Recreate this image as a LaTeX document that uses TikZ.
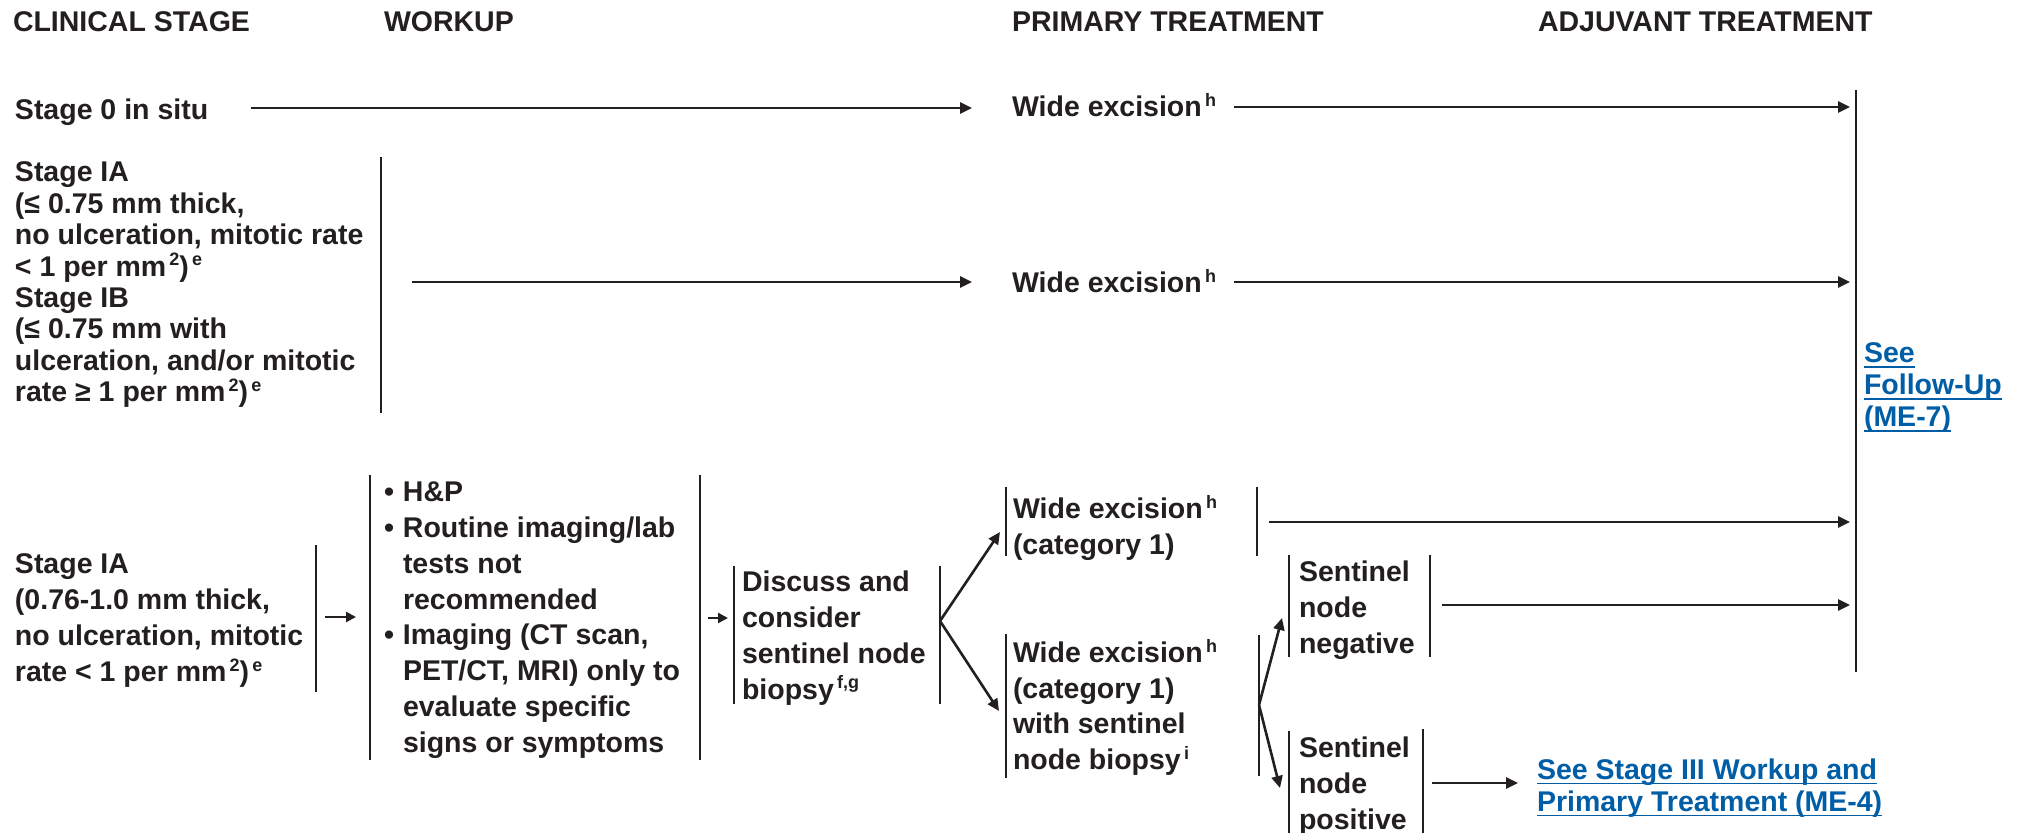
\documentclass[tikz,border=0pt]{standalone}
\usepackage{fontspec}
\setmainfont{Liberation Sans}
\usetikzlibrary{arrows.meta}
\definecolor{ink}{RGB}{35,31,32}
\definecolor{linkblue}{RGB}{0,94,166}
\newcommand\sups[1]{\kern1.6pt\raisebox{0.36em}{\fontsize{9}{9}\selectfont #1}}
\newcommand\bul{\makebox[9.5pt][l]{\textbullet}}
\newcommand\ind{\hspace*{9.5pt}}
\newcommand\lnkul[1]{\setbox0\hbox{#1}\rlap{\rule[-2.4pt]{\wd0}{0.9pt}}\box0}
\begin{document}
\begin{tikzpicture}[x=0.5pt,y=-0.5pt,
  every node/.style={inner sep=0pt,outer sep=0pt,text=ink,font=\fontsize{14.25}{15.7}\selectfont\bfseries},
  tight/.style={align=left,anchor=north west},
  loose/.style={align=left,anchor=north west,font=\fontsize{14.25}{17.9}\selectfont\bfseries},
  single/.style={anchor=base west},
  lnk/.style={text=linkblue,align=left,anchor=north west,font=\fontsize{14.25}{16}\selectfont\bfseries},
  bar/.style={draw=ink,line width=1.2pt},
  conn/.style={draw=ink,line width=1.3pt,-{Triangle[length=6pt,width=5.5pt]}},
  sconn/.style={draw=ink,line width=1.1pt,-{Triangle[length=5pt,width=5pt]}}]
\fill[white] (0,0) rectangle (2020,833);
\useasboundingbox (0,0) rectangle (2020,833);

% headers
\node[single] (hcs) at (13,32) {CLINICAL STAGE};
\node[single] (hwu) at (384,32) {WORKUP};
\node[single] (hpt) at (1012,32) {PRIMARY TREATMENT};
\node[single] (hat) at (1538,32) {ADJUVANT TREATMENT};

% row 1
\node[single] (s0) at (15,120) {Stage 0 in situ};
\node[single] (we0) at (1012,117) {Wide excision\sups{h}};

% row 2
\node[tight] (s1) at (15,162) {Stage IA\\(≤ 0.75 mm thick,\\no ulceration, mitotic rate\\< 1 per mm\sups{2})\sups{e}\\Stage IB\\(≤ 0.75 mm with\\ulceration, and/or mitotic\\rate ≥ 1 per mm\sups{2})\sups{e}};
\node[single] (we1) at (1012,293) {Wide excision\sups{h}};

% row 3
\node[loose] (s2) at (15,554) {Stage IA\\(0.76-1.0 mm thick,\\no ulceration, mitotic\\rate < 1 per mm\sups{2})\sups{e}};
\node[loose] (wu) at (384,482) {\bul H\&P\\\bul Routine imaging/lab\\\ind tests not\\\ind recommended\\\bul Imaging (CT scan,\\\ind PET/CT, MRI) only to\\\ind evaluate specific\\\ind signs or symptoms};
\node[loose] (dc) at (742,571) {Discuss and\\consider\\sentinel node\\biopsy\sups{f,g}};
\node[loose] (pt1) at (1013,495) {Wide excision\sups{h}\\(category 1)};
\node[loose] (pt2) at (1013,639) {Wide excision\sups{h}\\(category 1)\\with sentinel\\node biopsy\sups{i}};
\node[loose] (sn) at (1299,561) {Sentinel\\node\\negative};
\node[loose] (sp) at (1299,737) {Sentinel\\node\\positive};

% links
\node[lnk] (fu) at (1864,343) {\lnkul{See}\\\lnkul{Follow-Up}\\\lnkul{(ME-7)}};
\node[lnk] (st3) at (1537,759) {\lnkul{See Stage III Workup and}\\\lnkul{Primary Treatment (ME-4)}};

% bars
\draw[bar] (381,157) -- (381,413);
\draw[bar] (316,545) -- (316,692);
\draw[bar] (370,475) -- (370,760);
\draw[bar] (700,475) -- (700,760);
\draw[bar] (734,566) -- (734,704);
\draw[bar] (940,566) -- (940,704);
\draw[bar] (1006,487) -- (1006,556);
\draw[bar] (1257,487) -- (1257,556);
\draw[bar] (1006,634) -- (1006,778);
\draw[bar] (1259,635) -- (1259,776);
\draw[bar] (1289,555) -- (1289,657);
\draw[bar] (1430,555) -- (1430,657);
\draw[bar] (1289,731) -- (1289,833);
\draw[bar] (1423,729) -- (1423,833);
\draw[bar] (1856,90) -- (1856,672);

% connector end points
\coordinate (r0a) at (251,108);  \coordinate (r0b) at (972,108);
\coordinate (r0c) at (1234,107); \coordinate (r0d) at (1850,107);
\coordinate (r1a) at (412,282);  \coordinate (r1b) at (972,282);
\coordinate (r1c) at (1234,282); \coordinate (r1d) at (1850,282);
\coordinate (s2o) at (325,617);  \coordinate (wui) at (356,617);
\coordinate (wuo) at (708,618);  \coordinate (dci) at (728,618);
\coordinate (dco) at (940,621);
\coordinate (pt1i) at (1000,532); \coordinate (pt2i) at (999,711);
\coordinate (pt1o) at (1269,522); \coordinate (pt1e) at (1850,522);
\coordinate (pt2o) at (1259,705);
\coordinate (sni) at (1282,618);  \coordinate (spi) at (1280,788);
\coordinate (sno) at (1442,605);  \coordinate (sne) at (1850,605);
\coordinate (spo) at (1432,783);  \coordinate (st3i) at (1518,783);

% connectors
\draw[conn] (r0a) -- (r0b);
\draw[conn] (r0c) -- (r0d);
\draw[conn] (r1a) -- (r1b);
\draw[conn] (r1c) -- (r1d);
\draw[sconn] (s2o) -- (wui);
\draw[sconn] (wuo) -- (dci);
\draw[conn] (dco) -- (pt1i);
\draw[conn] (dco) -- (pt2i);
\draw[conn] (pt1o) -- (pt1e);
\draw[conn] (pt2o) -- (sni);
\draw[conn] (pt2o) -- (spi);
\draw[conn] (sno) -- (sne);
\draw[conn] (spo) -- (st3i);
\end{tikzpicture}
\end{document}
